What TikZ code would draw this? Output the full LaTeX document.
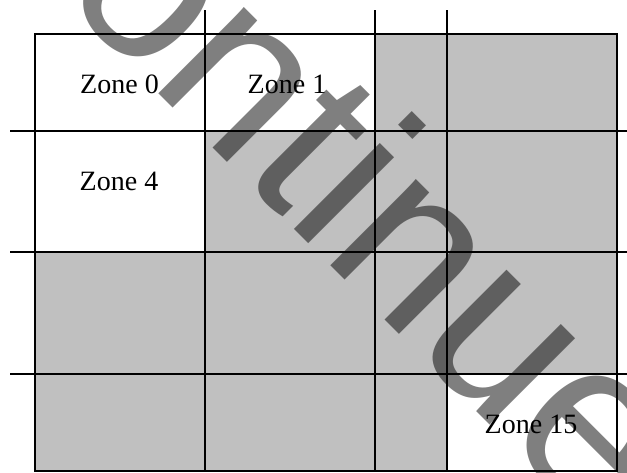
\documentclass[tikz,border=0pt]{standalone}
\usepackage{fontspec}
\setmainfont{Liberation Serif}
\newfontfamily\markfont{Liberation Sans}
\usetikzlibrary{positioning}
\definecolor{cellgray}{RGB}{192,192,192}

\begin{document}
\begin{tikzpicture}[
  x=1pt, y=-1pt,
  every node/.style={font=\fontsize{28}{30}\selectfont},
  gridline/.style={draw=black, line width=1.5pt},
  zonelabel/.style={inner sep=0pt, anchor=center},
  watermark/.style={font=\markfont\fontsize{230}{230}\selectfont, text=black, text opacity=0.5, rotate=-45, inner sep=0pt, anchor=base west}
]
\useasboundingbox (0,0) rectangle (627,472);

% gray cells, white ones left out
\fill[cellgray] (35,34) rectangle (617,471);
\fill[white] (35,34) rectangle (375,131);
\fill[white] (35,131) rectangle (205,252);
\fill[white] (447,374) rectangle (617,471);

% grid
\draw[gridline] (35,34) rectangle (617,471);
\foreach \x in {205,375,447}
  \draw[gridline] (\x,10) -- (\x,471);
\foreach \y in {131,252,374}
  \draw[gridline] (10,\y) -- (627,\y);

\node[zonelabel] (z0) at (119.5,84) {Zone 0};
\node[zonelabel] (z1) at (287,84) {Zone 1};
\node[zonelabel] (z4) at (119,181.5) {Zone 4};
\node[zonelabel] (z15) at (531,424) {Zone 15};

\node[watermark] (mark) at (-24,-89) {continue};
\end{tikzpicture}
\end{document}
